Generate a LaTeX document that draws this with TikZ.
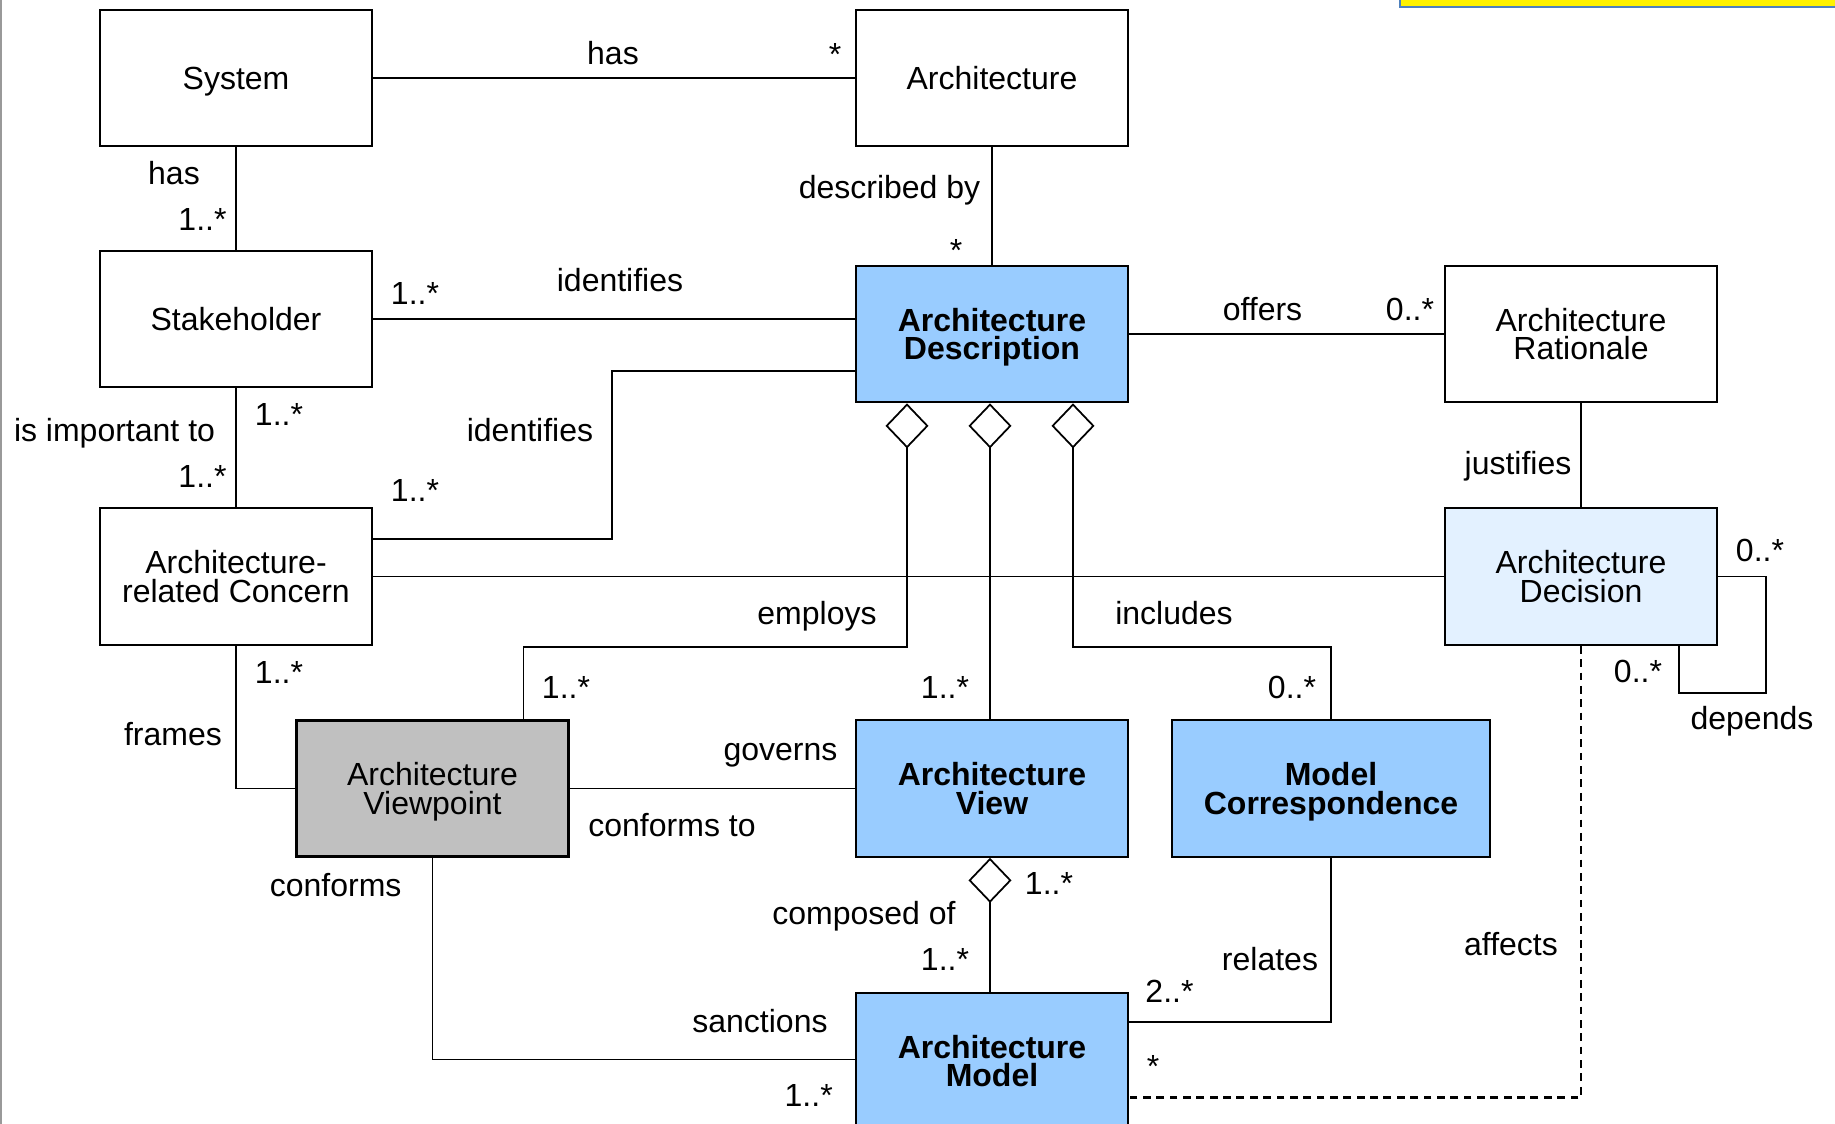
\documentclass[tikz,border=0pt]{standalone}
\usepackage{fontspec}
\setmainfont{Liberation Sans}
\usetikzlibrary{arrows.meta}

\definecolor{coreblue}{RGB}{153,204,255}
\definecolor{paleblue}{RGB}{227,241,255}
\definecolor{viewgray}{RGB}{192,192,192}
\definecolor{barblue}{RGB}{79,129,189}

\tikzset{
  every node/.style={font=\fontsize{9.1}{8.15}\selectfont},
  entity/.style={draw, line width=0.6pt, align=center, inner sep=0pt,
    text depth=0pt, minimum width=2.72cm, minimum height=1.365cm},
  core entity/.style={entity, fill=coreblue,
    font=\fontsize{9.1}{8.15}\selectfont\bfseries},
  role/.style={text height=1.5ex, text depth=0.25ex, inner sep=0pt},
  assoc/.style={line width=0.5pt},
  aggr/.style={assoc, line join=miter,
    {Diamond[open, length=4.5mm, width=4.3mm]}-},
}

\begin{document}
\begin{tikzpicture}[x=0.01cm, y=-0.01cm]
  \clip (0,0) rectangle (1835,1124);

  % page edge and note bar
  \fill [black!40] (0,0) rectangle (2,1124);
  \draw [barblue, line width=0.6pt, fill=yellow]
    (1400,-20) rectangle (1860,7)
  ;

  % classes
  \node (system) [entity] at (236,78) {System};
  \node (arch) [entity] at (992,78) {Architecture};
  \node (stake) [entity] at (236,319) {Stakeholder};
  \node (ad) [core entity] at (992,334) {Architecture\\Description};
  \node (rationale) [entity] at (1581,334) {Architecture\\Rationale};
  \node (concern) [entity] at (236,576.5) {Architecture-\\related Concern};
  \node (decision) [entity, fill=paleblue] at (1581,576.5)
    {Architecture\\Decision};
  \node (vp) [entity, fill=viewgray, line width=0.8pt] at (432.5,788.5)
    {Architecture\\Viewpoint};
  \node (view) [core entity] at (992,788.5) {Architecture\\View};
  \node (mc) [core entity, minimum width=3.18cm] at (1331,788.5)
    {Model\\Correspondence};
  \node (model) [core entity] at (992,1061) {Architecture\\Model};

  % top row
  \draw [assoc]
    (system) -- (arch)
      node (sys has) [role] at (613,53) {has}
      node (arch mult) [role] at (835,53.5) {*}
  ;
  \draw [assoc]
    (system) -- (stake)
      node (stake has) [role] at (174,173) {has}
      node (stake mult) [role] at (202.5,219) {1..*}
  ;
  \draw [assoc]
    (arch) -- (ad)
      node (desc by) [role] at (889.5,187) {described by}
      node (desc mult) [role] at (956,250) {*}
  ;

  % around the description
  \draw [assoc]
    (stake.east) -- (stake.east -| ad.west)
      node (stake id mult) [role] at (415,293) {1..*}
      node (stake id) [role] at (620,280) {identifies}
  ;
  \draw [assoc]
    (ad.west |- 0,371) -| (612,539) -- (concern.east |- 0,539)
      node (concern id) [role] at (530,430) {identifies}
      node (concern id mult) [role] at (415,490) {1..*}
  ;
  \draw [assoc]
    (stake) -- (concern)
      node (imp top) [role] at (279,414) {1..*}
      node (imp) [role] at (114.5,430) {is important to}
      node (imp bottom) [role] at (202.5,476) {1..*}
  ;
  \draw [assoc]
    (ad) -- (rationale)
      node (offers) [role] at (1262.5,309) {offers}
      node (offers mult) [role] at (1410,309) {0..*}
  ;
  \draw [assoc]
    (rationale) -- (decision)
      node (justifies) [role] at (1518,462.5) {justifies}
  ;
  \draw [assoc]
    (concern) -- (decision)
  ;
  \draw [assoc]
    (decision.east) -| (1766,693) -| (decision.south -| 1679,0)
      node (dep top) [role] at (1760,550) {0..*}
      node (dep bottom) [role] at (1638,671) {0..*}
      node (depends) [role] at (1752,718) {depends}
  ;

  % aggregations
  \draw [aggr]
    (ad.south -| 907,0) |- (523.5,647) -- (vp.north -| 523.5,0)
      node (employs) [role] at (817,612.6) {employs}
      node (employs mult) [role] at (566,687) {1..*}
  ;
  \draw [aggr]
    (ad.south -| 990,0) -- (view.north -| 990,0)
      node (view mult) [role] at (945,687) {1..*}
  ;
  \draw [aggr]
    (ad.south -| 1073,0) |- (1331,647) -- (mc.north)
      node (includes) [role] at (1174,612.6) {includes}
      node (includes mult) [role] at (1292,687) {0..*}
  ;
  \draw [aggr]
    (view.south -| 990,0) -- (model.north -| 990,0)
      node (comp top) [role] at (1049,882.6) {1..*}
      node (composed) [role] at (864,913) {composed of}
      node (comp bottom) [role] at (945,959) {1..*}
  ;

  % viewpoint
  \draw [assoc]
    (concern.south) |- (vp.west)
      node (frames mult) [role] at (279,672) {1..*}
      node (frames) [role] at (173,734) {frames}
  ;
  \draw [assoc]
    (vp) -- (view)
      node (governs) [role] at (780.5,749) {governs}
      node (conforms to) [role] at (672,825) {conforms to}
  ;
  \draw [assoc]
    (vp.south) |- (model.west |- 0,1059.5)
      node (conforms) [role] at (335.7,884.5) {conforms}
      node (sanctions) [role] at (760,1021) {sanctions}
      node (sanctions mult) [role] at (808.7,1095) {1..*}
  ;

  % model links
  \draw [assoc]
    (mc.south) |- (model.east |- 0,1022)
      node (relates) [role] at (1270,959) {relates}
      node (relates mult) [role] at (1169.5,990.6) {2..*}
      node (model mult) [role] at (1153,1066) {*}
  ;
  \draw [assoc, line width=0.6pt, dash pattern=on 2.2pt off 1.6pt]
    (decision.south) |- (model.east |- 0,1097.5)
      node (affects) [role] at (1511,944) {affects}
  ;
\end{tikzpicture}
\end{document}
